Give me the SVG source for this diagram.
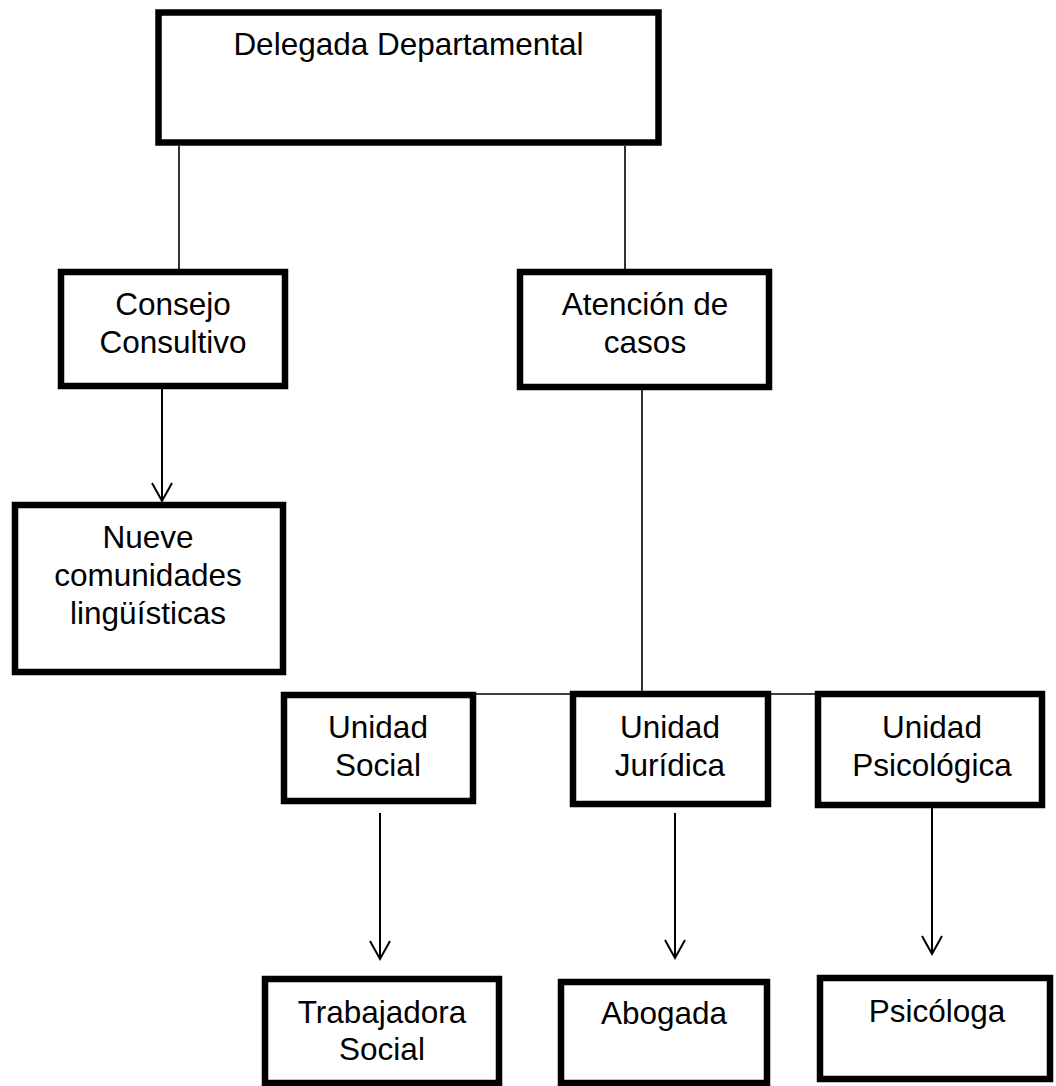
<svg xmlns="http://www.w3.org/2000/svg" width="1056" height="1086" viewBox="0 0 1056 1086">
<defs>
<style>
.box{fill:#fff;stroke:#000;stroke-width:6.5}
.t{font-family:"Liberation Sans",Arial,sans-serif;font-size:31.5px;fill:#000;text-anchor:middle}
.ln{stroke:#000;stroke-width:1.6;fill:none}
.ar{stroke:#000;stroke-width:2;fill:none}
</style>
<marker id="v" markerUnits="userSpaceOnUse" markerWidth="24" markerHeight="24" viewBox="-20 -12 24 24" refX="0" refY="0" orient="auto" overflow="visible">
<path d="M-18,-10 L0,0 L-18,10" fill="none" stroke="#000" stroke-width="2"/>
</marker>
</defs>
<rect width="1056" height="1086" fill="#fff"/>
<g id="connectors">
<line class="ln" x1="179" y1="146" x2="179" y2="269"/>
<line class="ln" x1="625" y1="146" x2="625" y2="269"/>
<line class="ln" x1="642" y1="390" x2="642" y2="692"/>
<line class="ln" x1="476" y1="694" x2="815" y2="694"/>
<path class="ar" d="M162,389 V501" marker-end="url(#v)"/>
<path class="ar" d="M380,813 V959" marker-end="url(#v)"/>
<path class="ar" d="M675,813 V958" marker-end="url(#v)"/>
<path class="ar" d="M932,808 V954" marker-end="url(#v)"/>
</g>
<g id="delegada"><rect class="box" x="158.5" y="12.5" width="500" height="130"/><text class="t" x="408.5" y="55">Delegada Departamental</text></g>
<g id="consejo"><rect class="box" x="61" y="272" width="224" height="114"/><text class="t" x="173" y="315">Consejo</text><text class="t" x="173" y="353">Consultivo</text></g>
<g id="atencion"><rect class="box" x="520" y="272" width="249" height="115"/><text class="t" x="645" y="315">Atención de</text><text class="t" x="645" y="353">casos</text></g>
<g id="nueve"><rect class="box" x="15" y="505" width="268" height="167"/><text class="t" x="148" y="548">Nueve</text><text class="t" x="148" y="586">comunidades</text><text class="t" x="148" y="624">lingüísticas</text></g>
<g id="social"><rect class="box" x="284" y="695" width="189" height="106"/><text class="t" x="378" y="738">Unidad</text><text class="t" x="378" y="776">Social</text></g>
<g id="juridica"><rect class="box" x="573" y="694" width="195" height="110"/><text class="t" x="670" y="738">Unidad</text><text class="t" x="670" y="776">Jurídica</text></g>
<g id="psicologica"><rect class="box" x="818" y="694" width="224" height="111"/><text class="t" x="932" y="738">Unidad</text><text class="t" x="932" y="776">Psicológica</text></g>
<g id="trabajadora"><rect class="box" x="265" y="979" width="234" height="104"/><text class="t" x="382" y="1023">Trabajadora</text><text class="t" x="382" y="1060">Social</text></g>
<g id="abogada"><rect class="box" x="561" y="982" width="206" height="101"/><text class="t" x="664" y="1024">Abogada</text></g>
<g id="psicologa"><rect class="box" x="820" y="978" width="230" height="101"/><text class="t" x="937" y="1022">Psicóloga</text></g>
</svg>
